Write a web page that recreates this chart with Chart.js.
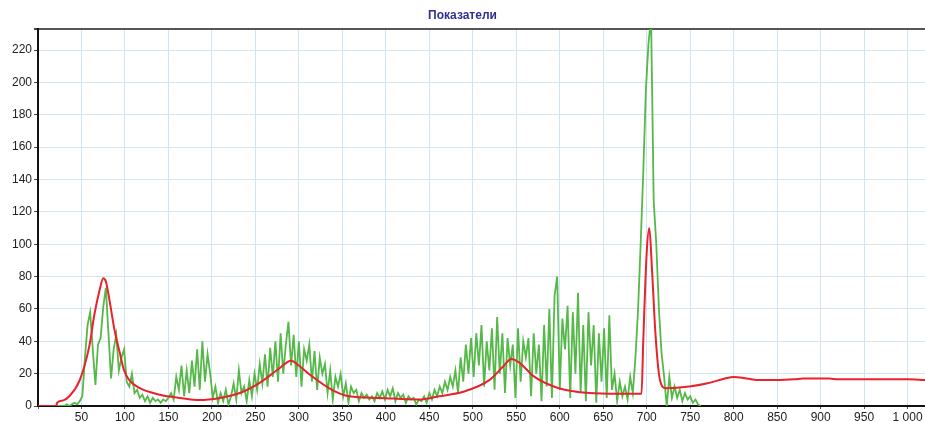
<!DOCTYPE html>
<html>
<head>
<meta charset="utf-8">
<script src="https://cdn.jsdelivr.net/npm/chart.js@4.4.1/dist/chart.umd.min.js"></script>
<style>
    html, body { margin: 0; padding: 0; background: #fff; }
    #wrap { width: 925px; height: 422px; }
</style>
</head>
<body>
<div id="wrap"><canvas id="indicatorsChart" width="925" height="422"></canvas></div>
<script>
'use strict';

var chartTitle = 'Показатели';

// red smoothed curve
var redX = [0, 21, 22, 29, 36, 48, 59, 65, 71, 75, 78, 82, 88, 94, 99, 105, 117, 140, 163, 186,
    209, 232, 254, 277, 291, 300, 311, 338, 358, 392, 438, 461, 490, 519, 536, 544, 553, 571, 599, 634,
    668, 694, 696, 700, 703, 706, 710, 714, 718, 722, 749, 770, 790, 800, 815, 830, 850, 870, 880, 910,
    920, 1000, 1020];
var redY = [0, 0, 2, 3.5, 6, 16, 37, 57, 72, 79, 77, 66, 47, 33, 22, 16, 11, 7, 5, 3.7,
    5, 8, 14, 23, 28, 25, 20, 10, 6, 5, 4, 6, 9, 16, 25, 29, 27, 18, 11, 8,
    7.5, 7.5, 40, 95, 110, 85, 45, 20, 12, 11, 12, 14, 17, 18, 17, 16, 16, 16.5, 17, 17,
    16.5, 16.5, 16];

// green raw signal, sampled every 3 units starting at 21
var greenStart = 21;
var greenStep = 3;
var greenY = [
    0, 0, 0, 0, 1, 0, 1, 2, 1, 3,
    6, 30, 50, 58, 35, 13, 38, 42, 61, 73,
    45, 17, 35, 44, 22, 30, 35, 15, 12, 20,
    8, 10, 5, 7, 3, 6, 2, 5, 3, 4,
    2, 4, 3, 5, 8, 4, 18, 10, 25, 6,
    22, 8, 28, 12, 35, 10, 40, 15, 32, 20,
    5, 12, 2, 8, 3, 10, 1, 6, 14, 4,
    22, 8, 12, 3, 16, 6, 20, 10, 26, 14,
    32, 12, 36, 18, 40, 15, 45, 20, 38, 52,
    25, 44, 18, 40, 12, 35, 28, 38, 15, 34,
    10, 30, 20, 26, 8, 22, 4, 18, 12, 20,
    6, 14, 2, 12, 8, 10, 3, 8, 5, 7,
    4, 6, 3, 8, 5, 9, 4, 10, 6, 11,
    3, 8, 5, 7, 2, 6, 4, 5, 1, 4,
    3, 6, 2, 8, 4, 10, 6, 12, 8, 15,
    10, 18, 12, 22, 8, 30, 15, 38, 20, 42,
    18, 45, 25, 50, 12, 40, 22, 48, 10, 55,
    20, 45, 8, 42, 25, 38, 5, 48, 15, 40,
    30, 42, 6, 45, 20, 38, 3, 50, 12, 60,
    5, 68, 80, 10, 54, 35, 62, 5, 58, 20,
    70, 8, 50, 3, 58, 25, 50, 2, 45, 15,
    48, 5, 56, 10, 20, 3, 15, 6, 12, 4,
    18, 8, 30, 59, 100, 144, 195, 224, 240, 127,
    100, 60, 33, 18, 0, 18, 5, 12, 5, 10,
    3, 8, 4, 6, 2, 4, 1, 0
];

var xTicks = [0, 50, 100, 150, 200, 250, 300, 350, 400, 450, 500, 550, 600, 650, 700, 750, 800, 850, 900, 950, 1000];
var yTicks = [0, 20, 40, 60, 80, 100, 120, 140, 160, 180, 200, 220];
var xMin = 0, xMax = 1020;
var yMin = 0, yMax = 233;

var gridBlue = '#cfe5f3';

function toPoints(xs, ys) {
    var pts = [];
    for (var i = 0; i < ys.length; i++) {
        pts.push({ x: xs[i], y: ys[i] });
    }
    return pts;
}

var greenX = [];
for (var i = 0; i < greenY.length; i++) {
    greenX.push(greenStart + i * greenStep);
}

function fmtThousands(v) {
    return String(v).replace(/\B(?=(\d{3})+(?!\d))/g, ' ');
}

var ctx = document.getElementById('indicatorsChart');

var indicatorsChart = new Chart(ctx, {
    type: 'line',
    data: {
        datasets: [
            {
                label: 'red',
                data: toPoints(redX, redY),
                borderColor: '#e8232b',
                borderWidth: 2,
                pointRadius: 0,
                cubicInterpolationMode: 'monotone',
                fill: false
            },
            {
                label: 'green',
                data: toPoints(greenX, greenY),
                borderColor: '#55b848',
                borderWidth: 1.8,
                pointRadius: 0,
                tension: 0,
                fill: false
            }
        ]
    },
    options: {
        responsive: false,
        animation: false,
        layout: { padding: 0 },
        plugins: {
            legend: { display: false },
            tooltip: { enabled: false },
            title: {
                display: true,
                text: chartTitle,
                color: '#2e3192',
                font: { family: 'Liberation Sans, Arial, sans-serif', size: 12, weight: 'bold' },
                padding: { top: 8, bottom: 6.6 }
            }
        },
        scales: {
            x: {
                type: 'linear',
                min: xMin,
                max: xMax,
                afterBuildTicks: function (scale) {
                    scale.ticks = xTicks.map(function (v) { return { value: v }; });
                },
                afterFit: function (scale) { scale.height = 16; },
                border: { color: '#111', width: 2 },
                grid: {
                    color: function (c) {
                        var v = c.tick ? c.tick.value : 0;
                        return v !== 0 ? gridBlue : 'rgba(0,0,0,0)';
                    },
                    lineWidth: 1,
                    tickColor: '#555',
                    tickLength: 3
                },
                ticks: {
                    maxRotation: 0,
                    autoSkip: false,
                    padding: 1,
                    color: '#222',
                    font: { family: 'Liberation Sans, Arial, sans-serif', size: 12 },
                    callback: function (v) {
                        return v === 0 ? '' : fmtThousands(v);
                    }
                }
            },
            y: {
                min: yMin,
                max: yMax,
                afterBuildTicks: function (scale) {
                    scale.ticks = yTicks.concat([yMax]).map(function (v) { return { value: v }; });
                },
                afterFit: function (scale) { scale.width = 38; },
                border: { color: '#111', width: 2 },
                grid: {
                    color: function (c) {
                        var v = c.tick ? c.tick.value : 0;
                        if (v === yMax) { return '#555'; }
                        return v !== 0 ? gridBlue : 'rgba(0,0,0,0)';
                    },
                    lineWidth: function (c) {
                        return (c.tick && c.tick.value === yMax) ? 2 : 1;
                    },
                    tickColor: '#444',
                    tickLength: 4
                },
                ticks: {
                    padding: 2,
                    color: '#222',
                    font: { family: 'Liberation Sans, Arial, sans-serif', size: 12 },
                    callback: function (v) {
                        return v === yMax ? '' : v;
                    }
                }
            }
        }
    }
});
</script>
</body>
</html>
